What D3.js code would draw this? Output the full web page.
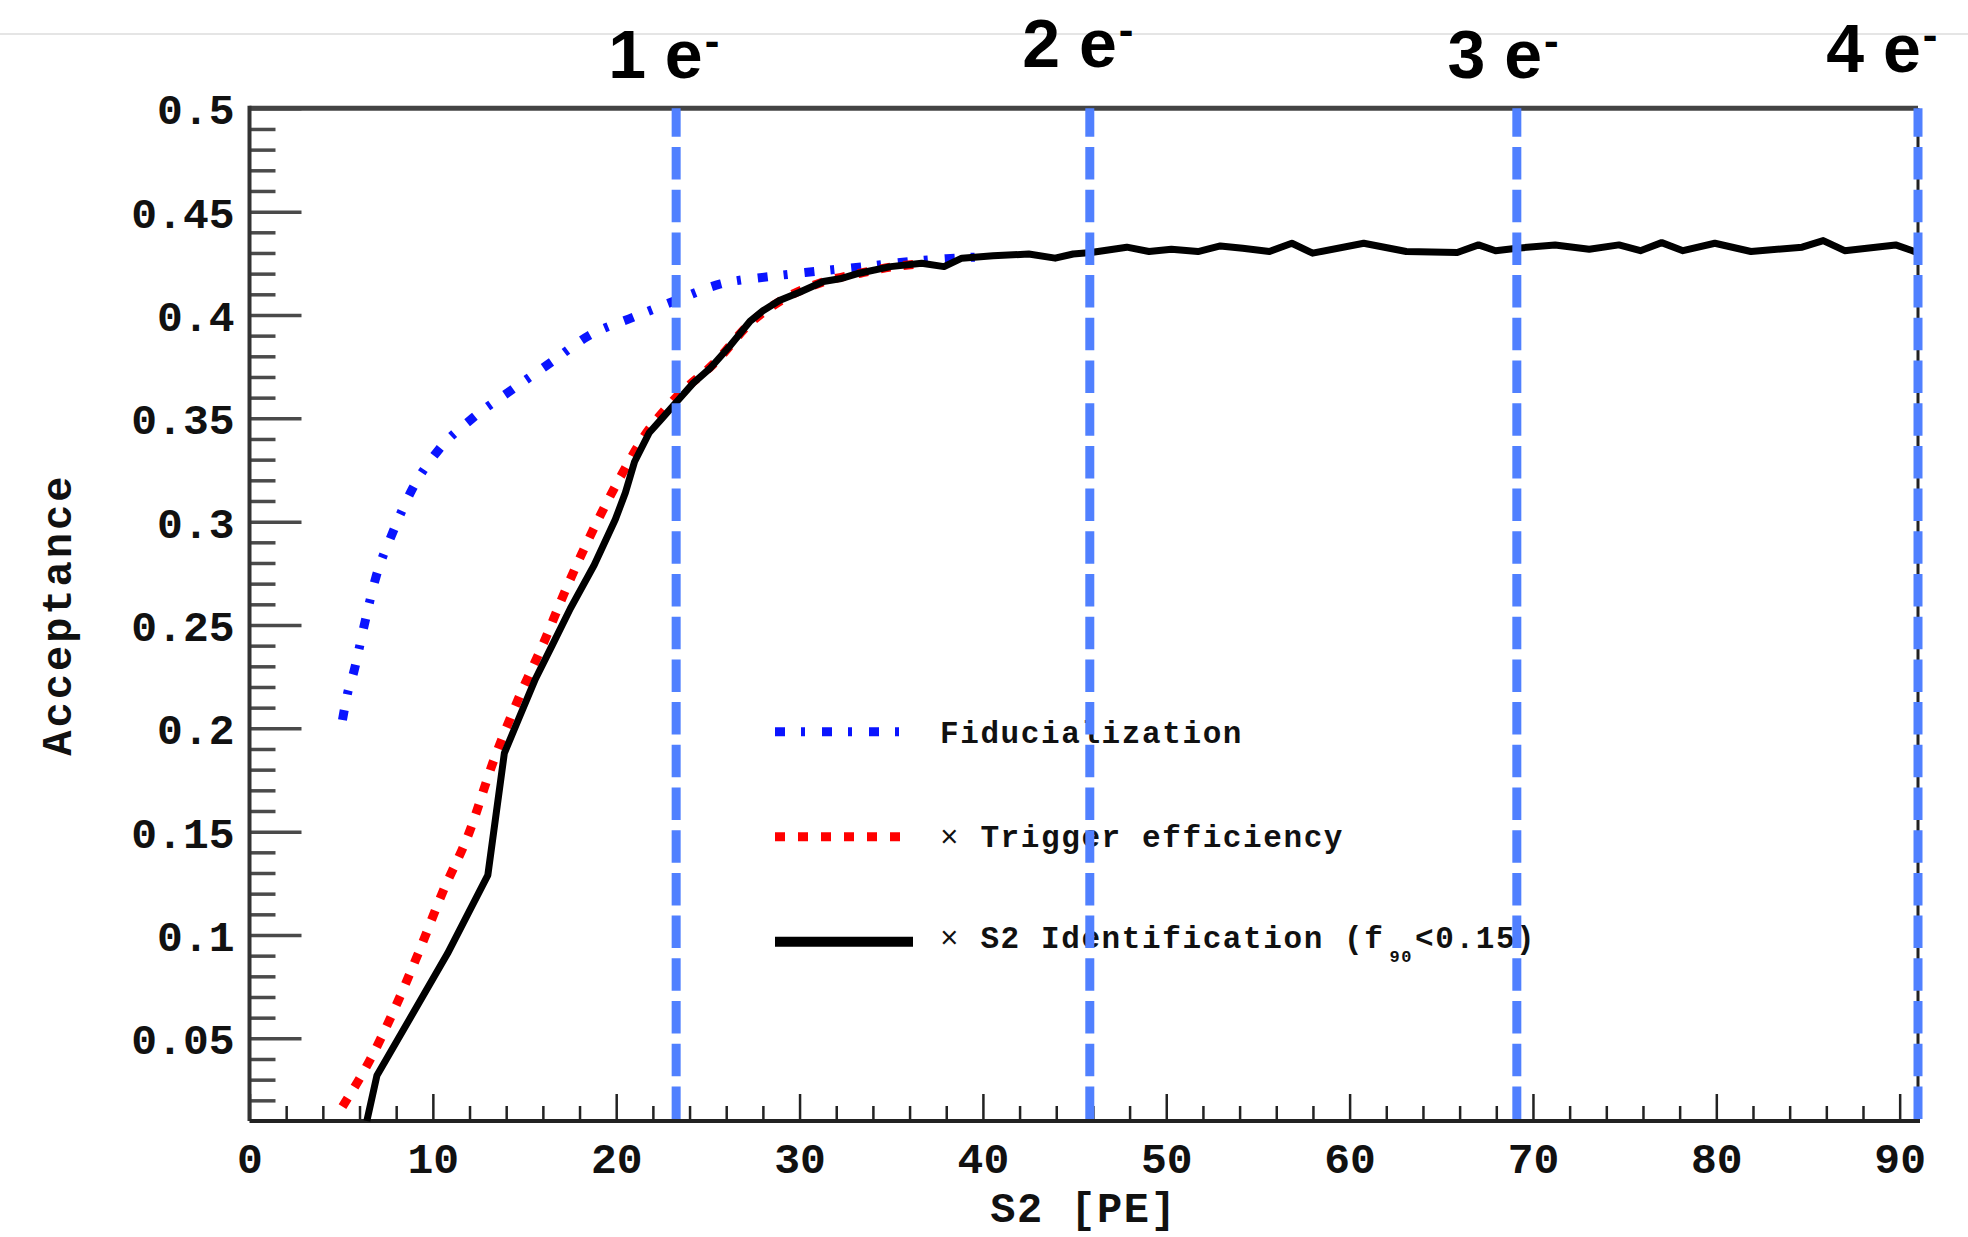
<!DOCTYPE html>
<html><head><meta charset="utf-8">
<script src="https://cdn.jsdelivr.net/npm/d3@7"></script>
<style>body{margin:0;background:#fff;overflow:hidden}</style>
</head><body>
<svg id="chart" width="1968" height="1237"></svg>
<script>
// ---- data ----
const fidX = [5.07, 5.35, 5.68, 6.26, 6.89, 7.8, 8.89, 10.34, 12.16, 14.34, 16.43, 18.51, 20.96, 23.24, 25.69, 28.39, 30.82, 33.5, 35.93, 38.0, 39.6];
const fidY = [0.204, 0.217, 0.227, 0.250, 0.273, 0.2945, 0.316, 0.335, 0.350, 0.364, 0.377, 0.390, 0.399, 0.407, 0.415, 0.4186, 0.421, 0.4234, 0.4258, 0.4272, 0.4280];

const trigX = [5.07, 6.6, 7.9, 9.2, 10.5, 12.0, 13.3, 14.7, 16.05, 17.1, 18.1, 19.1, 20.25, 21.5, 23.15, 25.5, 27.3, 29.0, 31.3, 33.3, 35.0, 36.6];
const trigY = [0.017, 0.040, 0.064, 0.091, 0.120, 0.150, 0.184, 0.215, 0.2415, 0.264, 0.284, 0.3025, 0.322, 0.341, 0.359, 0.378, 0.396, 0.407, 0.416, 0.4202, 0.4232, 0.4248];

const s2X = [6.4, 6.95, 10.8, 13.0, 13.9, 14.7, 15.6, 16.5, 17.5, 18.8, 19.95, 20.5, 21.0, 21.8, 22.5, 23.3, 24.2, 25.1, 26.2, 27.3, 28.0, 28.9, 30.0, 31.3, 32.2, 33.25, 34.96, 36.66, 37.88, 38.85, 40.55, 42.5, 43.94, 44.92, 45.9, 47.85, 49.06, 50.28, 51.73, 52.95, 54.17, 55.63, 56.85, 57.98, 60.77, 63.09, 65.87, 67.03, 67.96, 69.12, 71.21, 73.07, 74.69, 75.86, 77.02, 78.18, 79.92, 81.89, 84.68, 85.83, 87.0, 89.78, 90.7, 91.0];
const s2Y = [0.010, 0.032, 0.091, 0.129, 0.188, 0.205, 0.224, 0.240, 0.258, 0.279, 0.301, 0.314, 0.329, 0.343, 0.350, 0.358, 0.367, 0.374, 0.385, 0.397, 0.402, 0.407, 0.411, 0.4162, 0.4175, 0.4202, 0.4234, 0.4250, 0.4234, 0.4275, 0.4286, 0.4295, 0.4275, 0.4295, 0.4302, 0.4328, 0.4307, 0.4318, 0.4307, 0.4334, 0.4323, 0.4307, 0.4347, 0.4299, 0.4347, 0.4307, 0.4302, 0.4339, 0.4311, 0.4323, 0.4339, 0.4318, 0.4339, 0.4311, 0.435, 0.4311, 0.4347, 0.4307, 0.4328, 0.436, 0.4311, 0.4339, 0.4311, 0.430];

const electronX = [23.27, 45.83, 69.12, 91.0];
const electronLabels = ["1", "2", "3", "4"];

const xMajorTicks = [0, 10, 20, 30, 40, 50, 60, 70, 80, 90];
const xMinorTicks = [2,4,6,8,12,14,16,18,22,24,26,28,32,34,36,38,42,44,46,48,52,54,56,58,62,64,66,68,72,74,76,78,82,84,86,88];
const yMajorTicks = [0.05, 0.1, 0.15, 0.2, 0.25, 0.3, 0.35, 0.4, 0.45, 0.5];
const yTickLabels = ["0.05", "0.1", "0.15", "0.2", "0.25", "0.3", "0.35", "0.4", "0.45", "0.5"];
const yMinorTicks = [0.02,0.03,0.04,0.06,0.07,0.08,0.09,0.11,0.12,0.13,0.14,0.16,0.17,0.18,0.19,0.21,0.22,0.23,0.24,0.26,0.27,0.28,0.29,0.31,0.32,0.33,0.34,0.36,0.37,0.38,0.39,0.41,0.42,0.43,0.44,0.46,0.47,0.48,0.49];

const legendLabels = ["Fiducialization", "Trigger efficiency", "S2 Identification ("];

// ---- layout ----
const svg = d3.select("#chart");
const L = 249.5, R = 1918, T = 108.3, B = 1121;
const x = d3.scaleLinear().domain([0, 91]).range([L, R]);
const y = d3.scaleLinear().domain([0.01, 0.5]).range([B, T]);
const mono = "'Liberation Mono', 'DejaVu Sans Mono', monospace";

// thin light line at the top of the page
svg.append("line").attr("x1", 0).attr("x2", 1968).attr("y1", 34).attr("y2", 34)
  .attr("stroke", "#dcdcdc").attr("stroke-width", 1.5);

// axes
const xAxisMajor = d3.axisBottom(x).tickValues(xMajorTicks).tickSizeInner(-27).tickSizeOuter(0).tickPadding(21).tickFormat(d3.format("d"));
const xAxisMinor = d3.axisBottom(x).tickValues(xMinorTicks).tickSizeInner(-15).tickSizeOuter(0).tickFormat("");
const yAxisMajor = d3.axisLeft(y).tickValues(yMajorTicks).tickSizeInner(-52).tickSizeOuter(0).tickPadding(15)
  .tickFormat((d, i) => yTickLabels[i]);
const yAxisMinor = d3.axisLeft(y).tickValues(yMinorTicks).tickSizeInner(-26).tickSizeOuter(0).tickFormat("");

function styleAxis(g, color, w) {
  g.select(".domain").remove();
  g.selectAll(".tick line").attr("stroke", color).attr("stroke-width", w);
  g.selectAll(".tick text").attr("fill", "#111").attr("font-family", mono)
    .attr("font-weight", "bold").attr("font-size", 43);
}
svg.append("g").attr("transform", `translate(0,${B})`).call(xAxisMinor).call(g => styleAxis(g, "#222", 2.5));
svg.append("g").attr("transform", `translate(0,${B})`).call(xAxisMajor).call(g => styleAxis(g, "#222", 2.5));
svg.append("g").attr("transform", `translate(${L},0)`).call(yAxisMinor).call(g => styleAxis(g, "#4a4a4a", 3.5));
const gy = svg.append("g").attr("transform", `translate(${L},0)`).call(yAxisMajor).call(g => styleAxis(g, "#4a4a4a", 3.5));
gy.selectAll(".tick text").attr("dy", "0.36em");

// frame
svg.append("line").attr("x1", L).attr("x2", R).attr("y1", T).attr("y2", T).attr("stroke", "#444").attr("stroke-width", 5);
svg.append("line").attr("x1", L).attr("x2", L).attr("y1", T - 2.5).attr("y2", B).attr("stroke", "#333").attr("stroke-width", 4);
svg.append("line").attr("x1", L).attr("x2", R + 2).attr("y1", B).attr("y2", B).attr("stroke", "#222").attr("stroke-width", 4);
svg.append("line").attr("x1", R).attr("x2", R).attr("y1", T).attr("y2", B).attr("stroke", "#222").attr("stroke-width", 3);

// axis titles
svg.append("text").attr("x", (L + R) / 2).attr("y", 1222).attr("text-anchor", "middle")
  .attr("font-family", mono).attr("font-weight", "bold").attr("font-size", 42).attr("letter-spacing", 1.5)
  .attr("fill", "#111").text("S2 [PE]");
svg.append("text").attr("transform", `translate(71,${(T + B) / 2}) rotate(-90)`).attr("text-anchor", "middle")
  .attr("font-family", mono).attr("font-weight", "bold").attr("font-size", 42).attr("letter-spacing", 3)
  .attr("fill", "#111").text("Acceptance");

// curves
const toPts = (xs, ys) => xs.map((v, i) => [v, ys[i]]);
const lineSmooth = d3.line().x(d => x(d[0])).y(d => y(d[1])).curve(d3.curveMonotoneX);
const lineLin = d3.line().x(d => x(d[0])).y(d => y(d[1]));

const blueDash = "10,16,4,17";
const redDash = "10,13";

svg.append("path").attr("d", lineSmooth(toPts(fidX, fidY))).attr("fill", "none")
  .attr("stroke", "#0a14ff").attr("stroke-width", 9).attr("stroke-dasharray", blueDash);
svg.append("path").attr("d", lineSmooth(toPts(trigX, trigY))).attr("fill", "none")
  .attr("stroke", "#ff0000").attr("stroke-width", 9).attr("stroke-dasharray", redDash);
svg.append("path").attr("d", lineLin(toPts(s2X, s2Y))).attr("fill", "none")
  .attr("stroke", "#000").attr("stroke-width", 7).attr("stroke-linejoin", "round");

// legend
const legY = [731.7, 836.7, 941.7];
const legBase = [743, 846.7, 948];
const legStyles = [
  {stroke: "#0a14ff", w: 9, dash: blueDash, x2: 907},
  {stroke: "#ff0000", w: 9, dash: redDash, x2: 907},
  {stroke: "#000", w: 10, dash: null, x2: 913}
];
legStyles.forEach((s, i) => {
  const ln = svg.append("line").attr("x1", 775).attr("x2", s.x2).attr("y1", legY[i]).attr("y2", legY[i])
    .attr("stroke", s.stroke).attr("stroke-width", s.w);
  if (s.dash) ln.attr("stroke-dasharray", s.dash);
});
const legText = (i) => svg.append("text").attr("x", 940).attr("y", legBase[i])
  .attr("font-family", mono).attr("font-size", 31).attr("letter-spacing", 1.6).attr("fill", "#111");
legText(0).append("tspan").attr("font-weight", "bold").text(legendLabels[0]);
const t1 = legText(1);
t1.append("tspan").text("× ");
t1.append("tspan").attr("font-weight", "bold").text(legendLabels[1]);
const t2 = legText(2);
t2.append("tspan").text("× ");
t2.append("tspan").attr("font-weight", "bold").text(legendLabels[2] + "f");
t2.append("tspan").attr("font-weight", "bold").attr("font-size", 17).attr("dx", 5).attr("dy", 14).text("90");
t2.append("tspan").attr("font-weight", "bold").attr("dx", 2).attr("dy", -14).text("<0.15)");

// electron lines (drawn on top)
svg.selectAll("line.elec").data(electronX).enter().append("line").attr("class", "elec")
  .attr("x1", d => x(d)).attr("x2", d => x(d)).attr("y1", T).attr("y2", B)
  .attr("stroke", "#5080ff").attr("stroke-width", 9).attr("stroke-dasharray", "32.5,10.2").attr("stroke-dashoffset", 4);

// electron labels
const labDx = [-68, -67.5, -69.4, -91.7];
const labY = [78, 67, 78, 72];
electronX.forEach((d, i) => {
  const t = svg.append("text").attr("x", x(d) + labDx[i]).attr("y", labY[i])
    .attr("font-family", "'Liberation Sans', Arial, sans-serif").attr("font-weight", "bold")
    .attr("font-size", 68).attr("fill", "#000");
  t.append("tspan").text(electronLabels[i] + " e");
  t.append("tspan").attr("font-size", 44).attr("dx", 2).attr("dy", -22).text("-");
});
</script>
</body></html>
